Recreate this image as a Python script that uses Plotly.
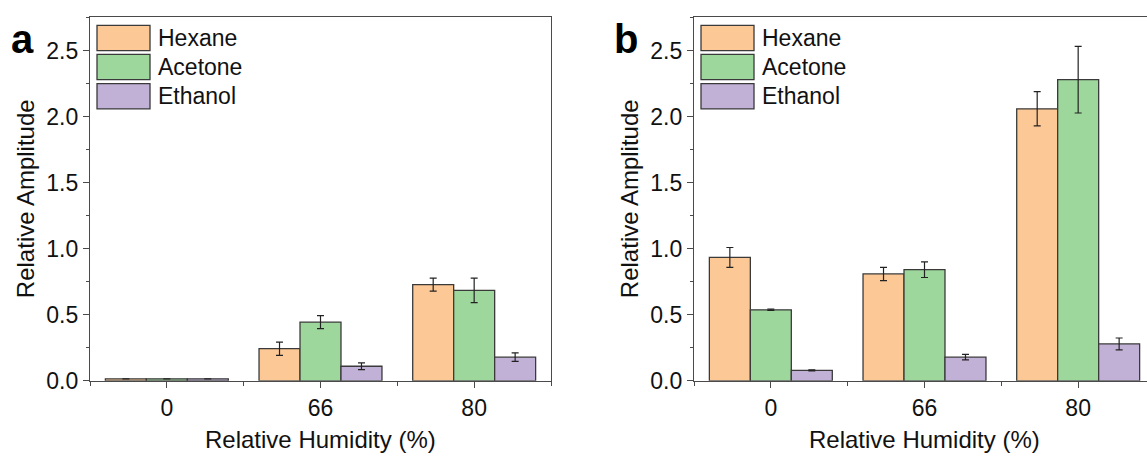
import plotly.graph_objects as go

# Relative amplitude of three VOC responses at three humidity levels
humidity = ["0", "66", "80"]
series = ["Hexane", "Acetone", "Ethanol"]
colors = ["#FCC896", "#9ED79C", "#C2B1D6"]

# panel a
a_hexane = [0.015, 0.243, 0.728]
a_acetone = [0.015, 0.444, 0.684]
a_ethanol = [0.015, 0.110, 0.179]
a_hexane_err = [0.0, 0.050, 0.049]
a_acetone_err = [0.0, 0.049, 0.093]
a_ethanol_err = [0.0, 0.025, 0.032]

# panel b
b_hexane = [0.934, 0.809, 2.059]
b_acetone = [0.537, 0.841, 2.279]
b_ethanol = [0.079, 0.179, 0.279]
b_hexane_err = [0.075, 0.050, 0.130]
b_acetone_err = [0.005, 0.059, 0.252]
b_ethanol_err = [0.004, 0.021, 0.045]

W, H = 1147, 467
FONT = "Liberation Sans, Arial, sans-serif"
AXIS_COLOR = "#4a4a4a"
OUTLINE = "#3a3a3a"
TICK_SIZE = 23
TITLE_SIZE = 24


def px_x(p):
    return p / W


def px_y(p):
    return 1 - p / H


fig = go.Figure()

panels = [
    ("x", "y", [a_hexane, a_acetone, a_ethanol], [a_hexane_err, a_acetone_err, a_ethanol_err]),
    ("x2", "y2", [b_hexane, b_acetone, b_ethanol], [b_hexane_err, b_acetone_err, b_ethanol_err]),
]
xpos = list(range(len(humidity)))
for xa, ya, vals, errs in panels:
    for name, color, v, e in zip(series, colors, vals, errs):
        fig.add_trace(go.Bar(
            x=xpos, y=v, name=name, xaxis=xa, yaxis=ya, offsetgroup=name,
            marker=dict(color=color, line=dict(color=OUTLINE, width=1.3)),
            error_y=dict(type="data", array=e, visible=True, color="#222222",
                         thickness=1.2, width=3.5),
            showlegend=False,
        ))

# plot-area pixel boxes
a_left, a_right = 90, 551
b_left = 694
top, bottom = 18, 391.7
cat_px = (a_right - a_left) / 3.0
b_xmax = (W - b_left) / cat_px - 0.5

common_x = dict(
    tickvals=xpos, ticktext=humidity, ticks="outside", ticklen=6, tickwidth=1.2,
    tickcolor=AXIS_COLOR, showline=True, linecolor=AXIS_COLOR, linewidth=1.3,
    mirror=True, showgrid=False, zeroline=False,
    minor=dict(tick0=0.5, dtick=1, ticks="outside", ticklen=4, tickcolor=AXIS_COLOR),
    tickfont=dict(family=FONT, size=TICK_SIZE, color="#111111"),
)
common_y = dict(
    range=[0, 2.75], dtick=0.5, tick0=0, tickformat=".1f", ticks="outside",
    ticklen=6, tickwidth=1.2, tickcolor=AXIS_COLOR, showline=True,
    linecolor=AXIS_COLOR, linewidth=1.3, showgrid=False, zeroline=False,
    minor=dict(dtick=0.25, ticks="outside", ticklen=3, tickcolor=AXIS_COLOR),
    tickfont=dict(family=FONT, size=TICK_SIZE, color="#111111"),
    domain=[px_y(bottom), px_y(top)],
)

fig.update_layout(
    width=W, height=H, margin=dict(l=0, r=0, t=0, b=0),
    paper_bgcolor="white", plot_bgcolor="white",
    barmode="group", bargap=0.2, bargroupgap=0,
    xaxis=dict(domain=[px_x(a_left), px_x(a_right)], range=[-0.5, 2.5], anchor="y", **common_x),
    yaxis=dict(anchor="x", mirror=True, **common_y),
    xaxis2=dict(domain=[px_x(b_left), 1.0], range=[-0.5, b_xmax], anchor="y2", **common_x),
    yaxis2=dict(anchor="x2", mirror=False, **common_y),
)

shapes = []
annotations = []
for left, label in [(a_left, "a"), (b_left, "b")]:
    # legend entries
    for i, (name, color) in enumerate(zip(series, colors)):
        y0 = 26 + 30 * i
        shapes.append(dict(
            type="rect", xref="paper", yref="paper",
            x0=px_x(left + 7), x1=px_x(left + 60), y0=px_y(y0 + 26), y1=px_y(y0),
            fillcolor=color, line=dict(color=OUTLINE, width=1.3),
        ))
        annotations.append(dict(
            xref="paper", yref="paper", x=px_x(left + 66), y=px_y(y0 + 13),
            xanchor="left", yanchor="middle", text=name, showarrow=False,
            font=dict(family=FONT, size=TICK_SIZE, color="#111111"),
        ))
    # axis titles
    annotations.append(dict(
        xref="paper", yref="paper", x=px_x(left - 65), y=px_y((top + bottom) / 2),
        xanchor="center", yanchor="middle", text="Relative Amplitude", textangle=-90,
        showarrow=False, font=dict(family=FONT, size=TITLE_SIZE, color="#111111"),
    ))
    annotations.append(dict(
        xref="paper", yref="paper", x=px_x(left + 1.5 * cat_px), y=px_y(452),
        xanchor="center", yanchor="middle", text="Relative Humidity (%)",
        showarrow=False, font=dict(family=FONT, size=TITLE_SIZE, color="#111111"),
    ))
    # panel letter
    annotations.append(dict(
        xref="paper", yref="paper", x=px_x(left - 68), y=px_y(40),
        xanchor="center", yanchor="middle", text="<b>%s</b>" % label,
        showarrow=False, font=dict(family=FONT, size=40, color="#000000"),
    ))

fig.update_layout(shapes=shapes, annotations=annotations)
fig.write_html("out.html")
